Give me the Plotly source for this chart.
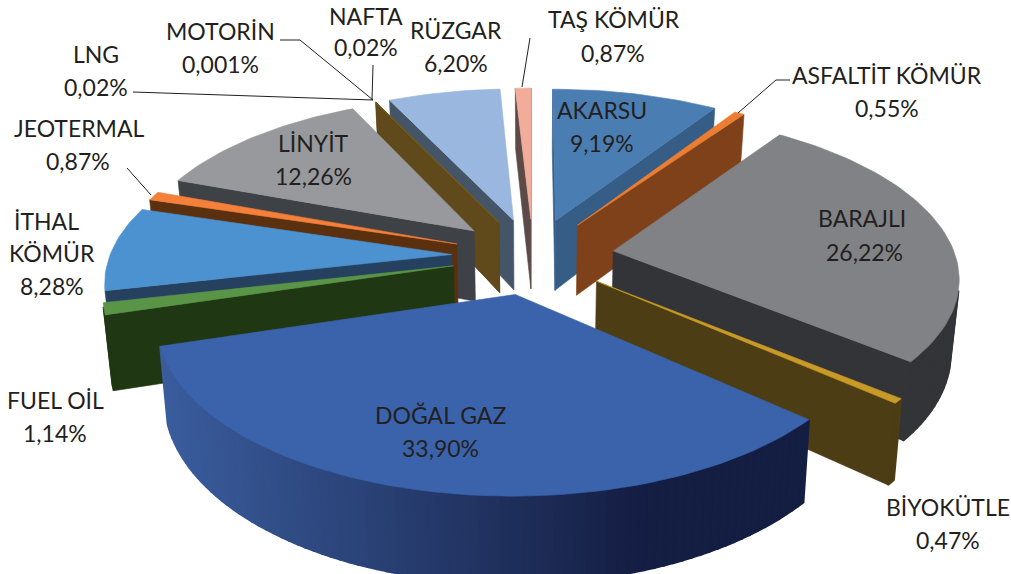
import math
import numpy as np
import plotly.graph_objects as go

# ---- data ----
categories = ["AKARSU", "ASFALTİT KÖMÜR", "BARAJLI", "BİYOKÜTLE", "DOĞAL GAZ", "FUEL OİL", "İTHAL KÖMÜR",
              "JEOTERMAL", "LİNYİT", "LNG", "MOTORİN", "NAFTA", "RÜZGAR", "TAŞ KÖMÜR"]
values = [9.19, 0.55, 26.22, 0.47, 33.90, 1.14, 8.28, 0.87, 12.26, 0.02, 0.001, 0.02, 6.20, 0.87]
top_colors = ["#4a7eb3", "#ed7d31", "#808285", "#c99a25", "#3a63ab", "#5a9547", "#4c92d0",
              "#f4803a", "#97999c", "#7a6020", "#7a6020", "#7a6020", "#9ab8df", "#f2ad9a"]
wall_colors = ["#365d85", "#7e411a", "#333438", "#4c3d15", "#141d42", "#1f3813", "#26405f",
               "#5a300e", "#3e4145", "#604a1c", "#604a1c", "#604a1c", "#445568", "#5c4a48"]

label_lines = [("TAŞ KÖMÜR", 614, 19), ("0,87%", 613, 53),
               ("ASFALTİT KÖMÜR", 887, 75), ("0,55%", 887, 108),
               ("BARAJLI", 862, 218), ("26,22%", 864, 252),
               ("BİYOKÜTLE", 948, 507), ("0,47%", 948, 540),
               ("DOĞAL GAZ", 440, 415), ("33,90%", 440, 448),
               ("FUEL OİL", 55, 400), ("1,14%", 55, 433),
               ("İTHAL", 46, 221), ("KÖMÜR", 52, 253), ("8,28%", 52, 286),
               ("JEOTERMAL", 79, 128), ("0,87%", 78, 161),
               ("LNG", 96, 54), ("0,02%", 96, 87),
               ("MOTORİN", 220, 31), ("0,001%", 220, 64),
               ("LİNYİT", 313, 143), ("12,26%", 313, 176),
               ("NAFTA", 366, 16), ("0,02%", 366, 47),
               ("RÜZGAR", 456, 30), ("6,20%", 456, 63),
               ("AKARSU", 602, 110), ("9,19%", 602, 143)]
leaders = [[(522, 87), (530, 38)],
           [(738, 113), (776, 80), (790, 80)],
           [(151, 195), (127, 168)],
           [(133, 92), (373, 100)],
           [(280, 40), (300, 40), (373, 100)],
           [(372, 100), (373, 65)]]

# ---- view of the tilted pie ----
CX, CY, A, B, K, DEPTH, PULL, BOTTOM_SHRINK = 533, 256, 342, 160, 0.145, 72, 0.238, 0.98


def project(x, y):
    w = 1 + K * y
    return CX + A * x / w, CY - B * y / w, w


def lower(x, y):
    sx, sy, w = project(x, y)
    return CX + (sx - CX) * BOTTOM_SHRINK, sy + DEPTH / w


def lerp_hex(c0, c1, t):
    a = [int(c0[i:i + 2], 16) for i in (1, 3, 5)]
    b = [int(c1[i:i + 2], 16) for i in (1, 3, 5)]
    return "rgb(%d,%d,%d)" % tuple(round(p + (q - p) * t) for p, q in zip(a, b))


def poly(pts, color, lw=0.6):
    xs = [p[0] for p in pts] + [pts[0][0]]
    ys = [p[1] for p in pts] + [pts[0][1]]
    return go.Scatter(x=xs, y=ys, mode="lines", fill="toself", fillcolor=color,
                      line=dict(color=color, width=lw), hoverinfo="skip", showlegend=False)


total = sum(values)
slices = []
cum = 0.0
for i, v in enumerate(values):
    a0 = cum / total * 2 * math.pi
    cum += v
    a1 = cum / total * 2 * math.pi
    slices.append((i, a0, a1, (a0 + a1) / 2))
slices.sort(key=lambda s: -math.cos(s[3]))

traces = []
for i, a0, a1, mid in slices:
    ox, oy = PULL * math.sin(mid), PULL * math.cos(mid)
    n = max(1, math.ceil((a1 - a0) / math.radians(1.5)))
    plane = [(ox, oy)] + [(ox + math.sin(t), oy + math.cos(t)) for t in np.linspace(a0, a1, n + 1)]
    m = len(plane)
    for j in range(m):
        p, q = plane[j], plane[(j + 1) % m]
        quad = [project(*p)[:2], project(*q)[:2], lower(*q), lower(*p)]
        area = sum(quad[k][0] * quad[(k + 1) % 4][1] - quad[(k + 1) % 4][0] * quad[k][1] for k in range(4))
        if area >= 0:
            continue
        color = wall_colors[i]
        arc = 0 < j < m - 1
        if categories[i] == "DOĞAL GAZ" and arc:
            t = (quad[0][0] + quad[1][0]) / 2
            t = min(1, max(0, (t - 165) / 480))
            color = lerp_hex("#3a5c9c", wall_colors[i], t)
        traces.append(poly(quad, color, 2.0 if arc else 0.6))
    traces.append(poly([project(*p)[:2] for p in plane], top_colors[i]))

for seg in leaders:
    traces.append(go.Scatter(x=[p[0] for p in seg], y=[p[1] for p in seg], mode="lines",
                             line=dict(color="#231f20", width=1), hoverinfo="skip", showlegend=False))

fig = go.Figure(traces)
for text, x, y in label_lines:
    fig.add_annotation(x=x, y=y, text=text, showarrow=False, xanchor="center", yanchor="middle",
                       font=dict(family="Lato", size=23, color="#231f20"))
fig.update_layout(width=1011, height=574, margin=dict(l=0, r=0, t=0, b=0),
                  paper_bgcolor="white", plot_bgcolor="white", showlegend=False,
                  xaxis=dict(range=[0, 1011], visible=False, fixedrange=True),
                  yaxis=dict(range=[574, 0], visible=False, fixedrange=True))
fig.write_html("out.html", config={"displayModeBar": False},
               post_script="document.body.style.margin='0';document.body.style.overflow='hidden';")
